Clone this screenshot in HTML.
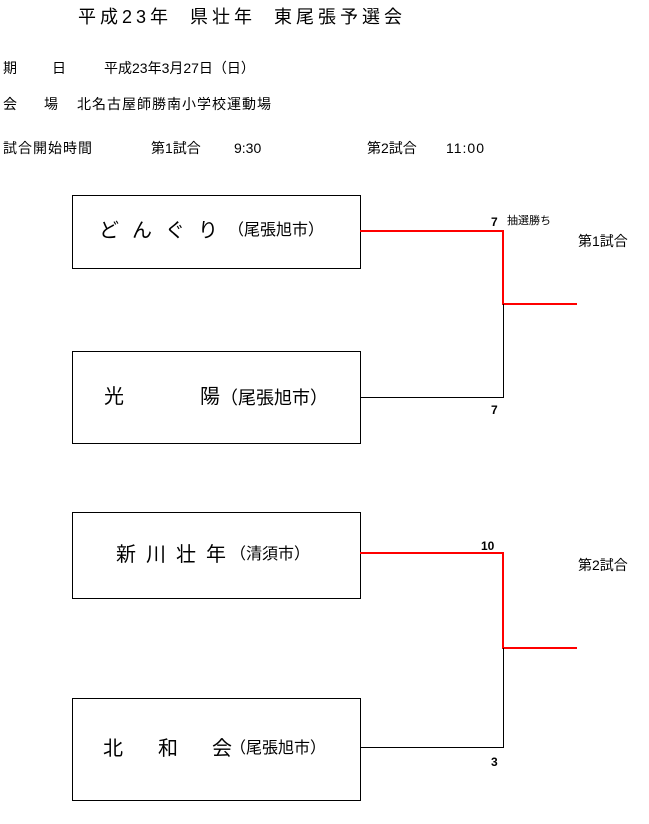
<!DOCTYPE html>
<html><head><meta charset="utf-8"><style>
body{margin:0;background:#fff;width:649px;height:824px;position:relative;overflow:hidden;font-family:"Liberation Sans","Noto Sans CJK JP",sans-serif;color:#000}
.t{position:absolute;white-space:nowrap;line-height:1}
.box{position:absolute;left:72px;width:287px;border:1px solid #000}
.n{position:absolute;white-space:nowrap;line-height:1;font-size:20px}
.p{position:absolute;white-space:nowrap;line-height:1;font-size:16px}
.l{position:absolute;background:#000}
.r{position:absolute;background:#f00}
.s{font-size:14px;letter-spacing:1.5px}
</style></head><body>
<div class="t" style="left:78px;top:8px;font-size:18px;letter-spacing:4px">平成23年&nbsp;&nbsp;県壮年&nbsp;&nbsp;東尾張予選会</div>
<div class="t s" style="left:3px;top:61px">期</div>
<div class="t s" style="left:52px;top:61px">日</div>
<div class="t s" style="left:104px;top:61px;letter-spacing:0">平成23年3月27日（日）</div>
<div class="t s" style="left:3px;top:97px">会</div>
<div class="t s" style="left:44px;top:97px">場</div>
<div class="t s" style="left:77px;top:97px;letter-spacing:1px">北名古屋師勝南小学校運動場</div>
<div class="t s" style="left:3px;top:141px;letter-spacing:1px">試合開始時間</div>
<div class="t s" style="left:151px;top:141px;letter-spacing:0">第1試合</div>
<div class="t s" style="left:234px;top:141px;letter-spacing:0">9:30</div>
<div class="t s" style="left:367px;top:141px;letter-spacing:0">第2試合</div>
<div class="t s" style="left:446px;top:141px;letter-spacing:1px">11:00</div>

<div class="box" style="top:195px;height:72px"></div>
<div class="n" style="left:99px;top:221px;letter-spacing:13px">どんぐり</div>
<div class="p" style="left:228px;top:223px">（尾張旭市）</div>
<div class="box" style="top:351px;height:91px"></div>
<div class="n" style="left:104px;top:387px">光</div>
<div class="n" style="left:200px;top:387px">陽</div>
<div class="p" style="left:220px;top:389px;font-size:18px">（尾張旭市）</div>
<div class="box" style="top:512px;height:85px"></div>
<div class="n" style="left:116px;top:545px;letter-spacing:10px">新川壮年</div>
<div class="p" style="left:230px;top:547px">（清須市）</div>
<div class="box" style="top:698px;height:101px"></div>
<div class="n" style="left:103px;top:739px">北</div>
<div class="n" style="left:158px;top:739px">和</div>
<div class="n" style="left:212px;top:739px">会</div>
<div class="p" style="left:230px;top:741px">（尾張旭市）</div>

<div class="r" style="left:360px;top:230px;width:144px;height:2px"></div>
<div class="r" style="left:502px;top:230px;width:2px;height:75px"></div>
<div class="r" style="left:502px;top:303px;width:75px;height:2px"></div>
<div class="l" style="left:360px;top:397px;width:144px;height:1px"></div>
<div class="l" style="left:503px;top:304px;width:1px;height:94px"></div>

<div class="r" style="left:360px;top:552px;width:144px;height:2px"></div>
<div class="r" style="left:502px;top:552px;width:2px;height:97px"></div>
<div class="r" style="left:502px;top:647px;width:75px;height:2px"></div>
<div class="l" style="left:360px;top:747px;width:144px;height:1px"></div>
<div class="l" style="left:503px;top:648px;width:1px;height:100px"></div>

<div class="t" style="left:491px;top:216px;font-size:12px;font-weight:bold">7</div>
<div class="t" style="left:507px;top:216px;font-size:11px">抽選勝ち</div>
<div class="t" style="left:491px;top:404px;font-size:12px;font-weight:bold">7</div>
<div class="t" style="left:481px;top:540px;font-size:12px;font-weight:bold">10</div>
<div class="t" style="left:491px;top:756px;font-size:12px;font-weight:bold">3</div>
<div class="t" style="left:578px;top:234px;font-size:14px">第1試合</div>
<div class="t" style="left:578px;top:558px;font-size:14px">第2試合</div>
</body></html>
